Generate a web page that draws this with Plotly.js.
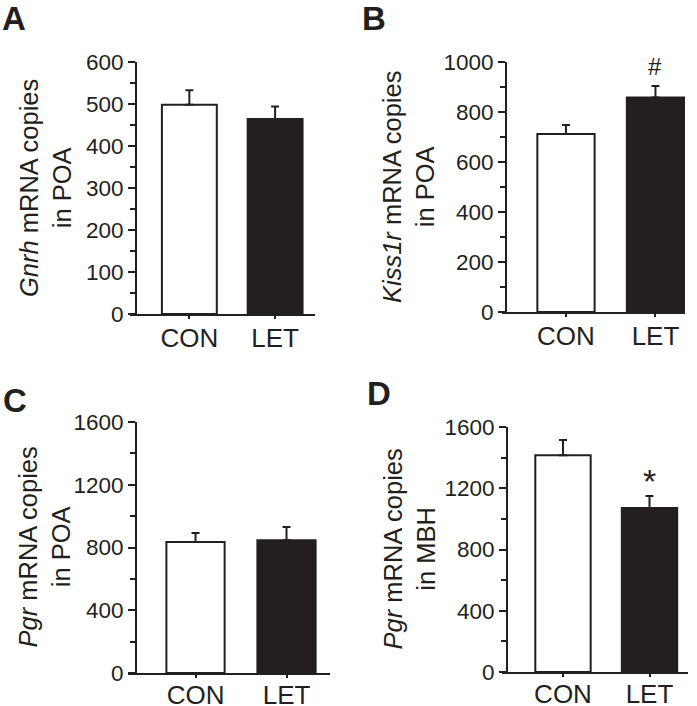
<!DOCTYPE html>
<html>
<head>
<meta charset="utf-8">
<script src="https://cdn.plot.ly/plotly-3.0.1.min.js"></script>
<style>html,body{margin:0;padding:0;background:#fff;}#chart{width:697px;height:706px;}</style>
</head>
<body>
<div id="chart"></div>
<script>
// ---- data ----
var categories = ['CON', 'LET'];
var gnrhPOA = [498, 464];
var gnrhPOAerr = [35, 30];
var kiss1rPOA = [712, 858];
var kiss1rPOAerr = [36, 46];
var pgrPOA = [835, 847];
var pgrPOAerr = [57, 83];
var pgrMBH = [1415, 1071];
var pgrMBHerr = [100, 79];
var panelLetters = ['A', 'B', 'C', 'D'];
var yTitles = [
  '<i>Gnrh</i> mRNA copies<br>in POA',
  '<i>Kiss1r</i> mRNA copies<br>in POA',
  '<i>Pgr</i> mRNA copies<br>in POA',
  '<i>Pgr</i> mRNA copies<br>in MBH'
];
var yRanges = [[0, 600], [0, 1000], [0, 1600], [0, 1600]];
var yDticks = [100, 200, 400, 400];
var signif = ['', '#', '', '*'];

var INK = '#231f20';
var FONT = '"Liberation Sans", Arial, Helvetica, sans-serif';
var W = 697, H = 706;

function bar(vals, errs, ax) {
  return {
    type: 'bar', x: categories, y: vals,
    xaxis: 'x' + ax, yaxis: 'y' + ax,
    width: 0.64,
    marker: {color: ['#ffffff', INK], line: {color: INK, width: 2}},
    error_y: {type: 'data', array: errs, arrayminus: [0, 0], symmetric: false,
              color: INK, thickness: 2, width: 4},
    showlegend: false, hoverinfo: 'x+y'
  };
}

var data = [
  bar(gnrhPOA, gnrhPOAerr, ''),
  bar(kiss1rPOA, kiss1rPOAerr, '2'),
  bar(pgrPOA, pgrPOAerr, '3'),
  bar(pgrMBH, pgrMBHerr, '4')
];

// pixel geometry of each panel
var geo = [
  {x0: 130, x1: 315, yAx: 136, yTop: 62, yBot: 314, xr: [-0.692, 1.465], tx: 45, so: -3},
  {x0: 502, x1: 685, yAx: 506, yTop: 62, yBot: 312, xr: [-0.715, 1.33], tx: 409, so: -3},
  {x0: 128, x1: 330, yAx: 136, yTop: 422, yBot: 673, xr: [-0.742, 1.478], tx: 44, so: -5},
  {x0: 502, x1: 688, yAx: 507, yTop: 427, yBot: 672, xr: [-0.705, 1.445], tx: 409, so: -5}
];

var layout = {
  width: W, height: H,
  margin: {l: 0, r: 0, t: 0, b: 0},
  paper_bgcolor: '#fff', plot_bgcolor: 'rgba(0,0,0,0)',
  font: {family: FONT, color: INK},
  annotations: [],
  showlegend: false
};

geo.forEach(function (g, i) {
  var s = i === 0 ? '' : String(i + 1);
  layout['xaxis' + s] = {
    domain: [g.x0 / W, g.x1 / W],
    anchor: 'y' + s,
    type: 'category',
    range: g.xr,
    showline: true, linewidth: 2, linecolor: INK,
    ticks: 'outside', ticklen: 3, tickwidth: 2, tickcolor: INK,
    ticklabelstandoff: g.so,
    tickfont: {size: 26, family: FONT, color: INK},
    showgrid: false, zeroline: false, fixedrange: true
  };
  layout['yaxis' + s] = {
    domain: [(H - g.yBot) / H, (H - g.yTop) / H],
    anchor: 'free', position: g.yAx / W,
    range: yRanges[i],
    dtick: yDticks[i], tick0: 0,
    showline: true, linewidth: 2, linecolor: INK,
    ticks: 'outside', ticklen: 7, tickwidth: 2, tickcolor: INK,
    minor: {dtick: yDticks[i] / 2, ticks: 'outside', ticklen: 5, tickwidth: 2, tickcolor: INK, showgrid: false},
    tickfont: {size: 22.5, family: FONT, color: INK},
    showgrid: false, zeroline: false, fixedrange: true
  };
  // y-axis title (two lines, rotated)
  layout.annotations.push({
    text: yTitles[i], xref: 'paper', yref: 'paper',
    x: g.tx / W, y: 1 - ((g.yTop + g.yBot) / 2) / H,
    xanchor: 'center', yanchor: 'middle', textangle: -90, showarrow: false,
    font: {size: 25.5, family: FONT, color: INK}
  });
});

var letterPos = [[0, -2], [360, -2], [1, 380], [365, 373]];
panelLetters.forEach(function (L, i) {
  layout.annotations.push({
    text: '<b>' + L + '</b>', xref: 'paper', yref: 'paper',
    x: letterPos[i][0] / W, y: 1 - letterPos[i][1] / H,
    xanchor: 'left', yanchor: 'top', showarrow: false,
    font: {size: 33, family: FONT, color: INK}
  });
});

// significance marks above LET bars
layout.annotations.push({
  text: signif[1], xref: 'x2', yref: 'y2', x: 'LET', y: kiss1rPOA[1] + kiss1rPOAerr[1],
  yanchor: 'bottom', yshift: 4, showarrow: false,
  font: {size: 24, family: FONT, color: INK}
});
layout.annotations.push({
  text: signif[3], xref: 'x4', yref: 'y4', x: 'LET', y: pgrMBH[1] + pgrMBHerr[1],
  yanchor: 'bottom', yshift: -6, showarrow: false,
  font: {size: 34, family: FONT, color: INK}
});

Plotly.newPlot('chart', data, layout, {staticPlot: true, displayModeBar: false});
</script>
</body>
</html>
